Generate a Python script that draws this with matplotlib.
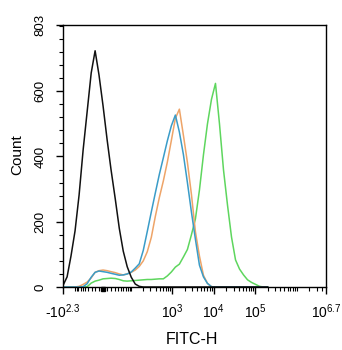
import numpy as np
import matplotlib
matplotlib.use('Agg')
import matplotlib.pyplot as plt

plt.rcParams['font.family'] = ['Liberation Sans', 'DejaVu Sans']
plt.rcParams['mathtext.fontset'] = 'custom'
plt.rcParams['mathtext.rm'] = 'Liberation Sans'
plt.rcParams['mathtext.it'] = 'Liberation Sans'

# FITC-H bin centres (shared by all histograms)
fitc = [-199, -158, -126, -99, -77, -59, -44, -31, -20, -10, 0, 10, 20, 32, 45,
        60, 78, 100, 127, 160, 201, 252, 316, 395, 494, 617, 771, 962, 1202,
        1501, 1875, 2341, 2923, 3649, 4555, 5687, 7100, 8863, 11065, 13813,
        17245, 21528, 26876, 33552, 41886, 52290, 65279, 81495, 101738,
        127010, 158560, 197946]

# counts per bin
control = [5, 31, 95, 172, 282, 420, 537, 656, 724, 650, 555, 451, 360, 270,
           180, 110, 62, 30, 9, 2] + [0] * 32
sample_orange = [0, 0, 0, 0, 2, 8, 15, 28, 45, 50, 52, 50, 47, 44, 40, 37, 40,
                 45, 52, 63, 80, 108, 152, 216, 274, 325, 383, 449, 517, 545,
                 465, 382, 284, 169, 95, 36, 11, 1] + [0] * 14
sample_blue = [0, 0, 0, 0, 0, 1, 10, 30, 45, 49, 47, 45, 42, 39, 36, 37, 40,
               46, 58, 71, 112, 170, 230, 288, 345, 396, 448, 494, 527, 475,
               406, 320, 230, 146, 67, 31, 11, 1] + [0] * 14
sample_green = [0, 0, 0, 0, 0, 0, 1, 12, 18, 21, 25, 26, 27, 26, 23, 19, 18,
                19, 20, 21, 22, 23, 23, 24, 25, 25, 34, 46, 61, 70, 92, 115,
                160, 209, 297, 405, 500, 575, 624, 500, 359, 251, 153, 83, 55,
                37, 22, 14, 8, 2, 0, 0]

xtick_vals = [-10**2.3, 10**3, 10**4, 10**5, 10**6.7]
xtick_labels = ['-$10^{2.3}$', '$10^{3}$', '$10^{4}$', '$10^{5}$', '$10^{6.7}$']
ytick_vals = [0, 200, 400, 600, 803]

# biexponential-like display (arcsinh)
W = 44.0
def fwd(x):
    return np.arcsinh(np.asarray(x, dtype=float) / W)
def inv(y):
    return W * np.sinh(y)

fig = plt.figure(figsize=(3.42, 3.50), dpi=100)
ax = fig.add_axes([63/342, 1 - 287/350, 263/342, 262/350])
ax.set_xscale('function', functions=(fwd, inv))

ax.plot(fitc, sample_green, color='#5ed65e', lw=1.1)
ax.plot(fitc, sample_orange, color='#eea468', lw=1.1)
ax.plot(fitc, sample_blue, color='#3a9cc8', lw=1.1)
ax.plot(fitc, control, color='#111111', lw=1.1)

ax.set_xlim(-10**2.3, 10**6.7)
ax.set_ylim(0, 803)

ax.set_xticks(xtick_vals, xtick_labels)
minor_x = ([-100, -90, -80, -70, -60, -50, -40, -30, -20, -10, 0,
            10, 20, 30, 40, 50, 60, 70, 80, 90, 100]
           + [m * 10**e for e in (2, 3, 4, 5) for m in range(2, 10)]
           + [10**6, 2e6, 3e6, 4e6])
ax.set_xticks(minor_x, minor=True)
ax.set_yticks(ytick_vals, [str(v) for v in ytick_vals])
ax.set_yticks(np.arange(40, 803, 40), minor=True)

ax.tick_params(axis='both', which='both', direction='out', color='black',
               top=False, right=False)
ax.tick_params(axis='both', which='major', length=5, width=1)
ax.tick_params(axis='both', which='minor', length=3, width=0.8)
ax.tick_params(axis='x', which='major', labelsize=10, pad=6)
ax.tick_params(axis='y', which='major', labelsize=9.5, pad=7, labelrotation=90)
for lab in ax.get_yticklabels():
    lab.set_va('center')

# small square marker at zero on the x axis
ax.plot([0], [-0.008], marker='s', ms=3, color='black', clip_on=False,
        transform=ax.get_xaxis_transform(), zorder=5)

for s in ax.spines.values():
    s.set_linewidth(1.0)
    s.set_color('black')

ax.set_xlabel('FITC-H', fontsize=11.5, va='top')
ax.xaxis.set_label_coords(0.489, -0.172)
ax.set_ylabel('Count', fontsize=11, va='center')
ax.yaxis.set_label_coords(-0.175, 0.504)

fig.savefig('out.png', dpi=100)
